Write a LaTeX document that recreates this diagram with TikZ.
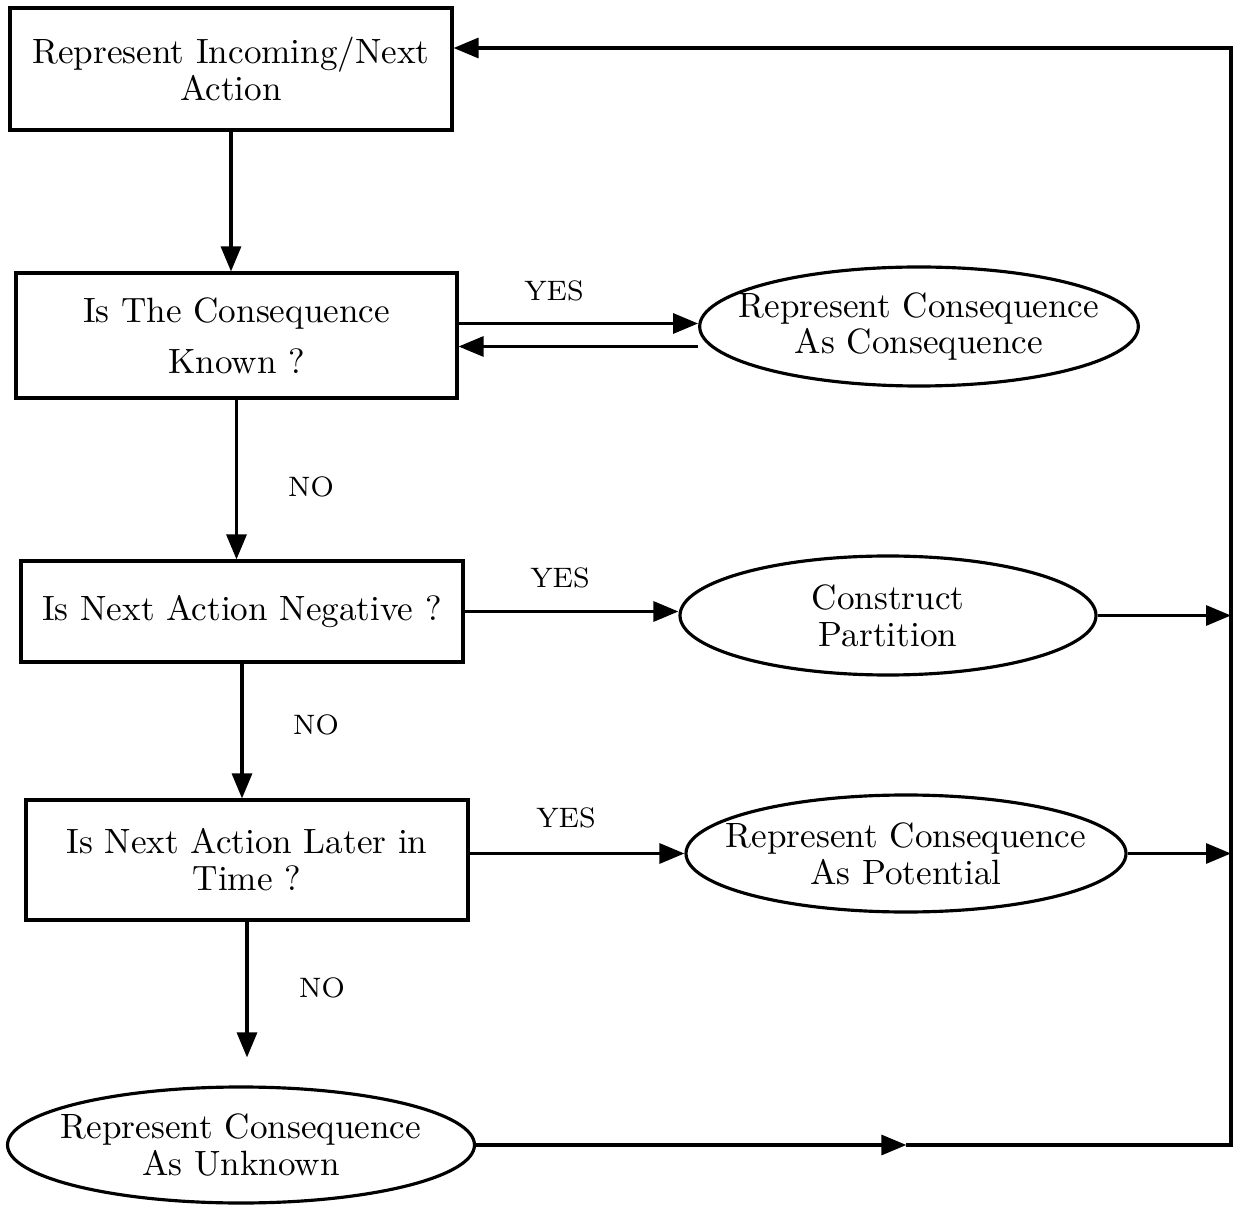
\documentclass[tikz,border=0pt]{standalone}
\usepackage{tikz}
\usetikzlibrary{shapes.geometric, arrows.meta, calc, positioning}
\tikzset{>=latex}

\begin{document}
\begin{tikzpicture}[
    every node/.style={font=\fontsize{10}{10.5}\selectfont, align=center, inner sep=0pt},
    box/.style={rectangle, draw, line width=0.9pt, minimum width=4.42cm},
    oval/.style={ellipse, draw, line width=0.9pt, inner xsep=-0.25cm},
    lbl/.style={font=\footnotesize},
    arrow/.style={-{Triangle[length=2.5mm,width=2mm]}, line width=0.9pt},
    line/.style={line width=0.9pt},
]
\useasboundingbox (0,0) rectangle (12.41,-12.07);

% questions
\node[box, minimum height=1.22cm] (box1) at (2.31,-0.69) {Represent Incoming/Next\\Action};
\node[box, minimum height=1.25cm, minimum width=4.41cm] (box2) at (2.365,-3.355) {Is The Consequence\\[4pt]Known ?};
\node[box, minimum height=1.01cm] (box3) at (2.42,-6.115) {Is Next Action Negative ?};
\node[box, minimum height=1.20cm] (box4) at (2.47,-8.60) {Is Next Action Later in\\Time ?};

% results
\node[oval, minimum width=4.38cm, minimum height=1.19cm] (e1) at (9.19,-3.265) {Represent Consequence\\As Consequence};
\node[oval, minimum width=4.16cm, minimum height=1.19cm] (e2) at (8.88,-6.155) {Construct\\Partition};
\node[oval, minimum width=4.40cm, minimum height=1.17cm] (e3) at (9.06,-8.535) {Represent Consequence\\As Potential};
\node[oval, minimum width=4.66cm, minimum height=1.16cm, inner xsep=-0.15cm] (e4) at (2.41,-11.45) {Represent Consequence\\As Unknown};

% labels
\node[lbl] (yes1) at (5.54,-2.91) {YES};
\node[lbl] (no1) at (3.11,-4.87) {NO};
\node[lbl] (yes2) at (5.60,-5.78) {YES};
\node[lbl] (no2) at (3.16,-7.25) {NO};
\node[lbl] (yes3) at (5.66,-8.18) {YES};
\node[lbl] (no3) at (3.22,-9.88) {NO};

% return line
\coordinate (tr) at (12.31,-0.48);
\path (e4.east) -- (e4.east -| tr) coordinate[pos=0.57] (mid);

% down arrows
\draw[arrow] (box1.south) -- (box1.south |- box2.north);
\draw[arrow] (box2.south) -- (box2.south |- box3.north);
\draw[arrow] (box3.south) -- (box3.south |- box4.north);
\draw[arrow, shorten >=0.28cm] (box4.south) -- (box4.south |- e4.north);

% yes arrows
\draw[arrow] ([yshift=0.12cm]box2.east) -- ([yshift=0.12cm]box2.east -| e1.west);
\draw[arrow] ([yshift=-0.11cm]box2.east -| e1.west) -- ([yshift=-0.11cm]box2.east);
\draw[arrow] (box3.east) -- (box3.east -| e2.west);
\draw[arrow] (e3.west -| box4.east) -- (e3.west);

% to the return line
\draw[arrow] (e2.east) -- (e2.east -| tr);
\draw[arrow] (e3.east) -- (e3.east -| tr);
\draw[arrow] (e4.east) -- (mid);
\draw[arrow] (mid) -- (e4.east -| tr) -- (tr) -- (tr -| box1.east);

\end{tikzpicture}
\end{document}
